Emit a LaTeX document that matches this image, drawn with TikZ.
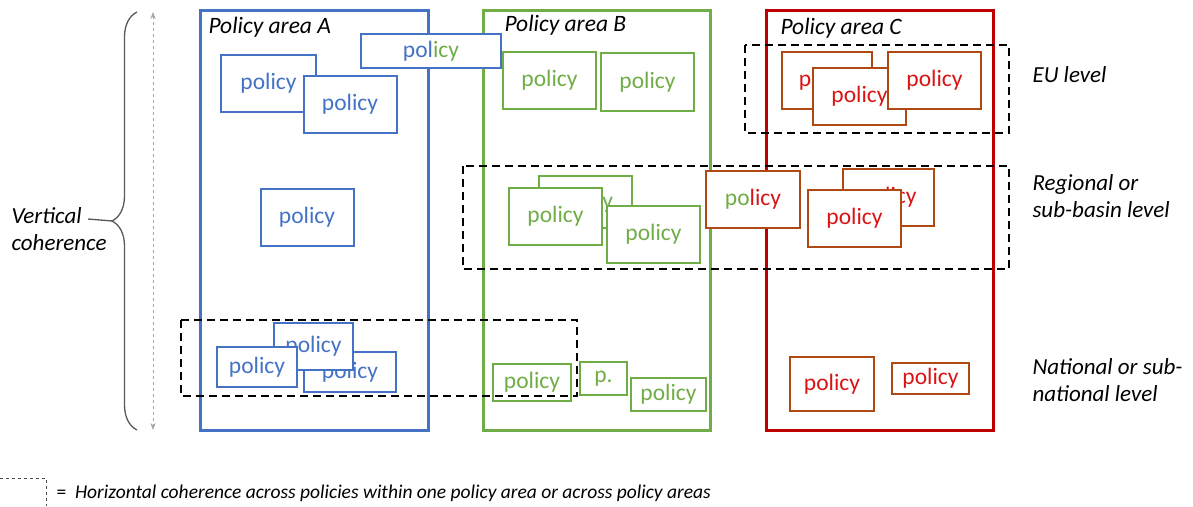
\documentclass[tikz,border=0pt]{standalone}
\usepackage{fontspec}
\setmainfont{Carlito}
\usetikzlibrary{decorations.pathreplacing,arrows.meta}
\definecolor{areaA}{RGB}{68,114,196}
\definecolor{areaB}{RGB}{112,173,71}
\definecolor{areaC}{RGB}{192,0,0}
\definecolor{edgeC}{RGB}{176,72,20}
\definecolor{textC}{RGB}{218,20,20}
\begin{document}
\begin{tikzpicture}[x=1pt,y=-1pt,
    area/.style={draw, line width=3pt},
    title/.style={anchor=west, font=\fontsize{23.5}{26}\selectfont\itshape},
    pol/.style={draw, fill=white, line width=2pt, inner sep=0pt,
      minimum width=93pt, minimum height=57pt, font=\fontsize{23.5}{26}\selectfont},
    polA/.style={pol, draw=areaA, text=areaA},
    polB/.style={pol, draw=areaB, text=areaB},
    polC/.style={pol, draw=edgeC, text=textC},
    horiz/.style={draw, dash pattern=on 8pt off 5pt, line width=1.8pt},
    level/.style={anchor=west, align=left, font=\fontsize{23}{27.5}\selectfont\itshape}]
  \useasboundingbox (0,0) rectangle (1193,506);
  % policy areas
  \draw[area, areaA] (200,10) rectangle (428,430);
  \draw[area, areaB] (483,10) rectangle (710,430);
  \draw[area, areaC] (766,10) rectangle (993,430);
  \node[title] (tA) at (205,27) {Policy area A};
  \node[title] (tB) at (501,25) {Policy area B};
  \node[title] (tC) at (777,28) {Policy area C};
  % policies of area A
  \node[polA, minimum width=95pt] (a1) at (268.5,83.5) {policy};
  \node[polA] (a2) at (350,104.5) {policy};
  \node[polA, minimum width=140pt, minimum height=34pt] (a3) at (431,51)
    {pol{\color{areaB}icy}};
  \node[polA] (a4) at (307,217.5) {policy};
  \node[polA, minimum width=92pt, minimum height=40pt] (a6) at (350,372) {policy};
  \node[polA, minimum width=79pt, minimum height=47pt] (a5) at (313.5,346.5) {policy};
  \node[polA, minimum width=80pt, minimum height=40pt] (a7) at (257,367) {policy};
  % policies of area B
  \node[polB] (b1) at (549.5,80) {policy};
  \node[polB, minimum height=58pt] (b2) at (647.5,82) {policy};
  \node[polB, minimum height=52pt] (b3) at (585,202) {policy};
  \node[polB] (b4) at (555.5,216.5) {policy};
  \node[polB] (b5) at (653.5,234.5) {policy};
  \node[polB, minimum width=78pt, minimum height=37pt] (b6) at (532,382.5) {policy};
  \node[polB, minimum width=47pt, minimum height=33pt] (b7) at (603.5,378.5) {p.};
  \node[polB, minimum width=75pt, minimum height=33pt] (b8) at (668.5,394.5) {policy};
  % policies of area C
  \node[polC, minimum width=90pt] (c1) at (827,80) {policy};
  \node[polC] (c2) at (859.5,96) {policy};
  \node[polC] (c3) at (934.5,80) {policy};
  \node[polC, minimum width=94pt] (c4) at (753,199.5) {{\color{areaB}po}licy};
  \node[polC, minimum width=91pt] (c5) at (888.5,197.5) {policy};
  \node[polC] (c6) at (854.5,218) {policy};
  \node[polC, minimum width=84pt, minimum height=54pt] (c7) at (832,384) {policy};
  \node[polC, minimum width=77pt, minimum height=31pt] (c8) at (930.5,378.5) {policy};
  % horizontal coherence
  \draw[horiz] (745,45) rectangle (1009,133);
  \draw[horiz] (463,166) rectangle (1009,269);
  \draw[horiz] (181,320) rectangle (577,396);
  % levels
  \node[level] (eu) at (1029,75) {EU level};
  \node[level] (reg) at (1029,196) {Regional or\\sub-basin level};
  \node[level] (nat) at (1029,380) {National or sub-\\national level};
  % vertical coherence
  \coordinate (btop) at (137,12);
  \coordinate (bbot) at (137,430);
  \coordinate (btip) at (112,221);
  \coordinate (vtop) at (153,12);
  \coordinate (vbot) at (153,430);
  \draw[line width=1.3pt, black!65, decorate, decoration={brace, amplitude=25pt}]
    (bbot) -- (btop);
  \draw[gray!70, dashed, line width=0.9pt, {Stealth[length=7pt]}-{Stealth[length=7pt]}]
    (vtop) -- (vbot);
  \node[level, align=left] (vert) at (8,229) {Vertical\\coherence};
  \coordinate (vend) at (88,219);
  \draw[line width=1.3pt, black!65] (vend) -- (btip);
  % legend
  \draw[black!70, dashed, line width=0.8pt] (0,478) -- (46,478) -- (46,506);
  \node[anchor=west, font=\fontsize{19.5}{22}\selectfont] (leg) at (53,493)
    {=\ \ \textit{Horizontal coherence across policies within one policy area or across policy areas}};
\end{tikzpicture}
\end{document}
